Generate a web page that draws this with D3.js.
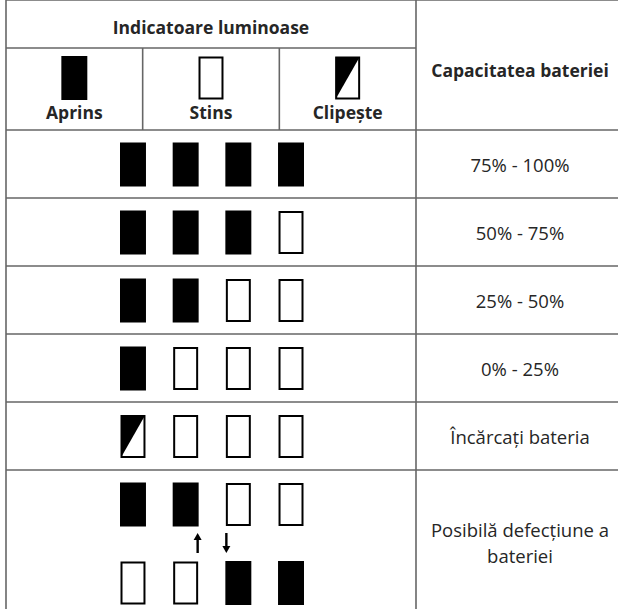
<!DOCTYPE html>
<html>
<head>
<meta charset="utf-8">
<script src="https://cdn.jsdelivr.net/npm/d3@7"></script>
<style>
  body { margin: 0; background: #fff; }
  svg { display: block; }
</style>
</head>
<body>
<svg id="ledTable" width="618" height="609"></svg>
<script>
// table content
var headerTitle = "Indicatoare luminoase";
var capacityTitle = "Capacitatea bateriei";
var legendLabels = ["Aprins", "Stins", "Clipește"];
var legendStates = ["on", "off", "blink"];
var rowLabels = [
  ["75% - 100%"],
  ["50% - 75%"],
  ["25% - 50%"],
  ["0% - 25%"],
  ["Încărcați bateria"],
  ["Posibilă defecțiune a", "bateriei"]
];
// LED states per row (last row has two lines of LEDs)
var rowStates = [
  [["on", "on", "on", "on"]],
  [["on", "on", "on", "off"]],
  [["on", "on", "off", "off"]],
  [["on", "off", "off", "off"]],
  [["blink", "off", "off", "off"]],
  [["on", "on", "off", "off"], ["off", "off", "on", "on"]]
];
var leds = [0, 1, 2, 3];

var svg = d3.select("svg#ledTable"),
  left = 6, right = 640, top = 5, split = 416,
  lineColor = "#666", textColor = "#262626", font = "'Open Sans', sans-serif";

// scales
var x = d3.scaleBand().domain(leds).range([120, 304]).paddingInner(0.507).paddingOuter(0);
var legendX = d3.scaleBand().domain(legendLabels).range([left, split]);
var rowY = d3.scaleLinear().domain([0, 5]).range([130, 470]);
var ledH = 44;

// header fills
svg.append("rect").attr("x", left).attr("y", top).attr("width", split - left).attr("height", 48 - top).attr("fill", "#d9d9d9");
svg.append("rect").attr("x", split).attr("y", top).attr("width", right - split).attr("height", 130 - top).attr("fill", "#d9d9d9");

// grid lines
var g = svg.append("g").attr("stroke", lineColor).attr("stroke-width", 1.6);
g.append("line").attr("x1", left).attr("x2", right).attr("y1", top).attr("y2", top);
g.append("line").attr("x1", left).attr("x2", split).attr("y1", 48).attr("y2", 48);
g.append("line").attr("x1", left).attr("x2", left).attr("y1", top).attr("y2", 620);
g.append("line").attr("x1", split).attr("x2", split).attr("y1", top).attr("y2", 620);
legendLabels.slice(1).forEach(function (d) {
  g.append("line").attr("x1", legendX(d)).attr("x2", legendX(d)).attr("y1", 48).attr("y2", 130);
});
d3.range(0, 6).forEach(function (i) {
  g.append("line").attr("x1", left).attr("x2", right).attr("y1", rowY(i)).attr("y2", rowY(i));
});

// draw one LED icon
function drawLed(sel, state, x0, y0, w) {
  if (state === "on") {
    sel.append("rect").attr("x", x0).attr("y", y0).attr("width", w).attr("height", ledH).attr("fill", "#000");
  } else {
    if (state === "blink") {
      sel.append("path")
        .attr("d", "M" + (x0 + 1) + "," + (y0 + 1) + "H" + (x0 + w - 1) + "L" + (x0 + 1) + "," + (y0 + ledH - 1) + "Z")
        .attr("fill", "#000");
    }
    sel.append("rect").attr("x", x0 + 1.5).attr("y", y0 + 1.5).attr("width", w - 3).attr("height", ledH - 3)
      .attr("fill", "none").attr("stroke", "#000").attr("stroke-width", 2);
  }
}

// header text
svg.append("text").attr("x", (left + split) / 2).attr("y", 33.5).attr("text-anchor", "middle")
  .attr("font-family", font).attr("font-weight", "bold").attr("font-size", 17.5).attr("fill", textColor)
  .text(headerTitle);
svg.append("text").attr("x", 520).attr("y", 77).attr("text-anchor", "middle")
  .attr("font-family", font).attr("font-weight", "bold").attr("font-size", 17.5).attr("fill", textColor)
  .text(capacityTitle);

// legend
legendLabels.forEach(function (d, i) {
  var cx = legendX(d) + legendX.bandwidth() / 2;
  drawLed(svg, legendStates[i], cx - x.bandwidth() / 2, 56, x.bandwidth());
  svg.append("text").attr("x", cx).attr("y", 119).attr("text-anchor", "middle")
    .attr("font-family", font).attr("font-weight", "bold").attr("font-size", 17.5).attr("fill", textColor)
    .text(d);
});

// rows
rowStates.forEach(function (lines, r) {
  var y0 = rowY(r);
  lines.forEach(function (states, k) {
    states.forEach(function (s, i) {
      drawLed(svg, s, x(leds[i]), y0 + 12.5 + k * 78.5, x.bandwidth());
    });
  });
  var labels = rowLabels[r];
  var cy = r < 5 ? y0 + 34.5 : 542.5;
  labels.forEach(function (t, j) {
    svg.append("text").attr("x", 520).attr("y", cy + 7 + (j - (labels.length - 1) / 2) * 26)
      .attr("text-anchor", "middle").attr("font-family", font).attr("font-size", 18.5).attr("fill", textColor)
      .text(t);
  });
});

// arrows between the two LED lines of the last row
var arrows = [
  { x: x(1) + x.bandwidth() - 1, dir: -1 },
  { x: x(2) + 1, dir: 1 }
];
arrows.forEach(function (a) {
  var y1 = 533, y2 = 553;
  var tip = a.dir < 0 ? y1 : y2, tail = a.dir < 0 ? y2 : y1;
  svg.append("line").attr("x1", a.x).attr("x2", a.x).attr("y1", tail).attr("y2", tip - a.dir * 5)
    .attr("stroke", "#000").attr("stroke-width", 2.4);
  svg.append("path")
    .attr("d", "M" + (a.x - 4) + "," + (tip - a.dir * 7) + "L" + a.x + "," + tip + "L" + (a.x + 4) + "," + (tip - a.dir * 7) + "Z")
    .attr("fill", "#000");
});
</script>
</body>
</html>
